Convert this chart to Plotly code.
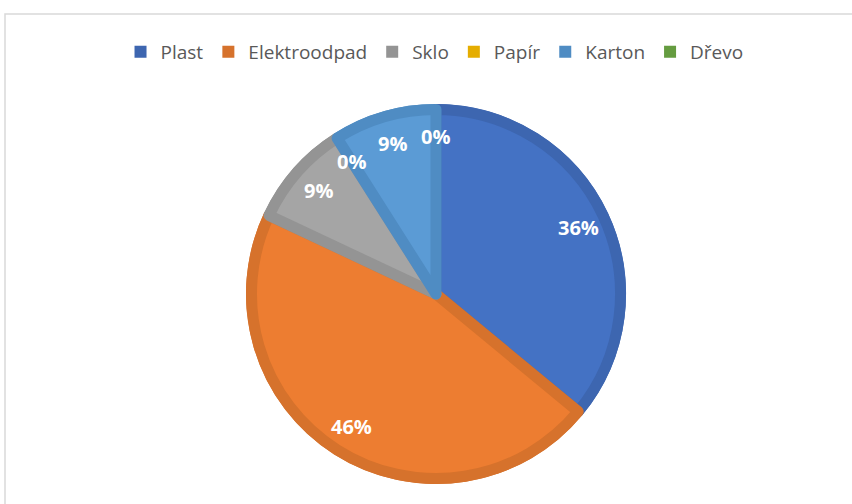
import math
import plotly.graph_objects as go

# Waste composition by type (percent of total)
categories = ["Plast", "Elektroodpad", "Sklo", "Papír", "Karton", "Dřevo"]
shares = [36, 46, 9, 0, 9, 0]
fill_colors = ["#4472C4", "#ED7D31", "#A5A5A5", "#FFC000", "#5B9BD5", "#70AD47"]
edge_colors = ["#3D66B0", "#D6722C", "#949494", "#E5AD00", "#4F8CC3", "#659C40"]

W, H = 852, 504
CX, CY, R = 436, 294, 190      # pie centre and outer radius in pixels
BAND = 5.5                      # half width of the darker slice outline
LABEL_R = 157                   # radius of the percentage labels


def pie_domain(radius):
    return dict(
        x=[(CX - radius) / W, (CX + radius) / W],
        y=[1 - (CY + radius) / H, 1 - (CY - radius) / H],
    )


common = dict(
    labels=categories,
    values=shares,
    sort=False,
    direction="clockwise",
    rotation=0,
    textinfo="none",
)

fig = go.Figure()
# darker base disc: gives each slice its outer rim
fig.add_trace(
    go.Pie(
        **common,
        marker=dict(colors=edge_colors, line=dict(width=0)),
        hoverinfo="skip",
        domain=pie_domain(R),
    )
)
# lighter slice faces with darker outlines along the slice edges
fig.add_trace(
    go.Pie(
        **common,
        marker=dict(
            colors=fill_colors,
            line=dict(color=edge_colors, width=[2 * BAND if v > 0 else 0 for v in shares]),
        ),
        hoverinfo="label+percent",
        showlegend=False,
        domain=pie_domain(R - BAND),
    )
)

# percentage labels placed at the middle angle of each slice
total = sum(shares)
cum = 0.0
annotations = []
for name, v in zip(categories, shares):
    mid = (cum + v / 2) / total * 2 * math.pi
    cum += v
    px = CX + LABEL_R * math.sin(mid)
    py = CY - LABEL_R * math.cos(mid)
    annotations.append(
        dict(
            x=px / W, y=1 - py / H, xref="paper", yref="paper",
            text=f"{round(100 * v / total)}%", showarrow=False,
            xanchor="center", yanchor="middle",
            font=dict(family="Open Sans", size=20, color="white", weight="bold"),
        )
    )

fig.update_layout(
    width=W, height=H,
    margin=dict(l=0, r=0, t=0, b=0),
    paper_bgcolor="white",
    plot_bgcolor="white",
    showlegend=True,
    legend=dict(
        orientation="h",
        x=0.51, xanchor="center",
        y=1 - 52 / H, yanchor="middle",
        font=dict(family="Open Sans", size=19, color="#595959"),
        itemclick=False, itemdoubleclick=False,
    ),
    annotations=annotations,
    shapes=[
        dict(
            type="rect", xref="paper", yref="paper",
            x0=5 / W, y0=-0.05, x1=1.05, y1=1 - 14 / H,
            line=dict(color="#D9D9D9", width=1.5),
            fillcolor="rgba(0,0,0,0)",
        )
    ],
)

fig.write_html("out.html")
